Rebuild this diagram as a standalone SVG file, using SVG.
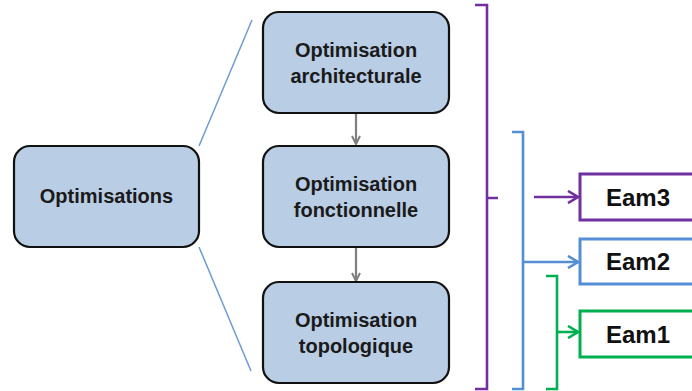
<svg xmlns="http://www.w3.org/2000/svg" width="692" height="391" viewBox="0 0 692 391">
<style>
.node rect{fill:#B9CDE5;stroke:#111;stroke-width:2.2}
.node text{font-family:"Liberation Sans",Arial,sans-serif;font-weight:bold;font-size:20px;fill:#1a1a1a;text-anchor:middle}
.eam text{font-family:"Liberation Sans",Arial,sans-serif;font-weight:bold;font-size:24px;fill:#111}
.eam rect{fill:#fff;stroke-width:3}
.br{fill:none;stroke-width:2.6}
</style>
<defs>
<marker id="ag" viewBox="0 0 10 10" refX="9" refY="5" markerWidth="10" markerHeight="10" markerUnits="userSpaceOnUse" orient="auto"><path d="M1,1 L9,5 L1,9" fill="none" stroke="#7f7f7f" stroke-width="2"/></marker>
<marker id="ap" viewBox="0 0 12 14" refX="11" refY="7" markerWidth="12" markerHeight="14" markerUnits="userSpaceOnUse" orient="auto"><path d="M1,1 L11,7 L1,13" fill="none" stroke="#7030A0" stroke-width="2.6"/></marker>
<marker id="ab" viewBox="0 0 12 14" refX="11" refY="7" markerWidth="12" markerHeight="14" markerUnits="userSpaceOnUse" orient="auto"><path d="M1,1 L11,7 L1,13" fill="none" stroke="#558ED5" stroke-width="2.6"/></marker>
<marker id="agr" viewBox="0 0 12 14" refX="11" refY="7" markerWidth="12" markerHeight="14" markerUnits="userSpaceOnUse" orient="auto"><path d="M1,1 L11,7 L1,13" fill="none" stroke="#00B050" stroke-width="2.6"/></marker>
</defs>
<g id="connectors">
<line x1="199" y1="146" x2="252" y2="20" stroke="#6E9BD3" stroke-width="1.5"/>
<line x1="199" y1="247" x2="251" y2="371" stroke="#6E9BD3" stroke-width="1.5"/>
<line x1="356" y1="113" x2="356" y2="144" stroke="#7f7f7f" stroke-width="2.2" marker-end="url(#ag)"/>
<line x1="356" y1="247" x2="356" y2="281" stroke="#7f7f7f" stroke-width="2.2" marker-end="url(#ag)"/>
<path class="br" stroke="#7030A0" d="M475,5 H487 V389 H475 M487,198 H498"/>
<path class="br" stroke="#558ED5" d="M512,132 H523 V389 H512"/>
<path class="br" stroke="#00B050" d="M546,276 H557 V389 H546"/>
<line x1="534" y1="197" x2="578" y2="197" stroke="#7030A0" stroke-width="2.6" marker-end="url(#ap)"/>
<line x1="523" y1="262" x2="578" y2="262" stroke="#558ED5" stroke-width="2.6" marker-end="url(#ab)"/>
<line x1="557" y1="332" x2="578" y2="332" stroke="#00B050" stroke-width="2.6" marker-end="url(#agr)"/>
</g>
<g id="n-optimisations" class="node"><rect x="14" y="146" width="185" height="101" rx="16"/><text x="106.5" y="203">Optimisations</text></g>
<g id="n-archi" class="node"><rect x="263" y="12" width="186" height="101" rx="16"/><text x="356" y="57">Optimisation</text><text x="356" y="83">architecturale</text></g>
<g id="n-fonc" class="node"><rect x="263" y="146" width="186" height="101" rx="16"/><text x="356" y="191">Optimisation</text><text x="356" y="217">fonctionnelle</text></g>
<g id="n-topo" class="node"><rect x="263" y="282" width="186" height="101" rx="16"/><text x="356" y="327">Optimisation</text><text x="356" y="353">topologique</text></g>
<g id="n-eam3" class="eam"><rect x="580" y="174" width="120" height="46" stroke="#7030A0"/><text x="606" y="206">Eam3</text></g>
<g id="n-eam2" class="eam"><rect x="580" y="239" width="120" height="45" stroke="#558ED5"/><text x="606" y="270">Eam2</text></g>
<g id="n-eam1" class="eam"><rect x="580" y="311" width="120" height="46" stroke="#00B050"/><text x="606" y="343">Eam1</text></g>
</svg>
